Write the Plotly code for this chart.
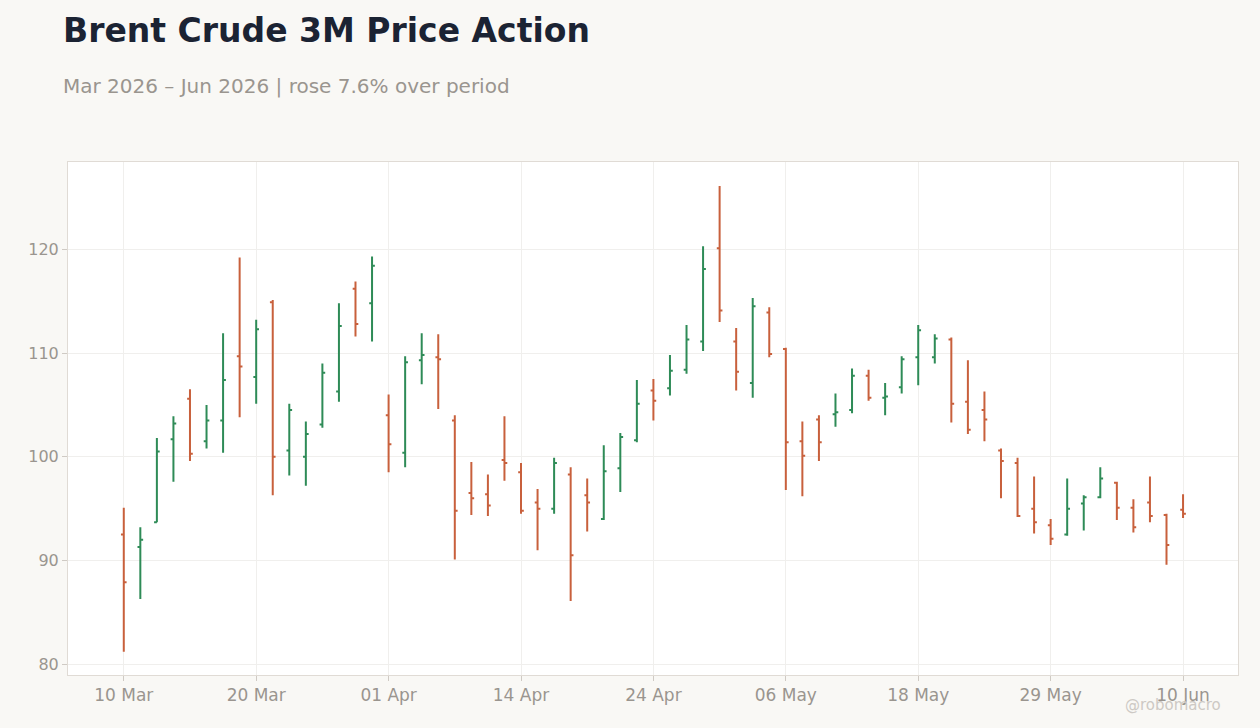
import plotly.graph_objects as go

dates = [
    "2026-03-10", "2026-03-11", "2026-03-12", "2026-03-13", "2026-03-16", "2026-03-17",
    "2026-03-18", "2026-03-19", "2026-03-20", "2026-03-23", "2026-03-24", "2026-03-25",
    "2026-03-26", "2026-03-27", "2026-03-30", "2026-03-31", "2026-04-01", "2026-04-02",
    "2026-04-06", "2026-04-07", "2026-04-08", "2026-04-09", "2026-04-10", "2026-04-13",
    "2026-04-14", "2026-04-15", "2026-04-16", "2026-04-17", "2026-04-20", "2026-04-21",
    "2026-04-22", "2026-04-23", "2026-04-24", "2026-04-27", "2026-04-28", "2026-04-29",
    "2026-04-30", "2026-05-01", "2026-05-04", "2026-05-05", "2026-05-06", "2026-05-07",
    "2026-05-08", "2026-05-11", "2026-05-12", "2026-05-13", "2026-05-14", "2026-05-15",
    "2026-05-18", "2026-05-19", "2026-05-20", "2026-05-21", "2026-05-22", "2026-05-26",
    "2026-05-27", "2026-05-28", "2026-05-29", "2026-06-01", "2026-06-02", "2026-06-03",
    "2026-06-04", "2026-06-05", "2026-06-08", "2026-06-09", "2026-06-10",
]

open_ = [
    92.5, 91.3, 93.7, 101.7, 105.6, 101.5, 103.5, 109.7, 107.7, 114.9, 100.6, 100.0,
    103.1, 106.3, 116.2, 114.8, 104.0, 100.4, 109.3, 109.6, 103.5, 96.5, 96.4, 99.7,
    98.5, 95.6, 95.0, 98.3, 96.3, 94.0, 98.9, 101.6, 106.4, 106.6, 108.4, 111.1,
    120.1, 111.1, 107.1, 113.9, 110.4, 101.5, 103.6, 104.1, 104.5, 107.8, 105.7, 106.7,
    109.6, 109.6, 111.3, 105.3, 104.5, 100.6, 99.4, 95.0, 93.4, 92.5, 95.5, 96.1,
    97.5, 95.1, 95.6, 94.4, 94.9,
]
high = [
    95.1, 93.2, 101.8, 103.9, 106.5, 105.0, 111.9, 119.2, 113.2, 115.1, 105.1, 103.4,
    109.0, 114.8, 116.9, 119.3, 106.0, 109.7, 111.9, 111.8, 104.0, 99.5, 98.3, 103.9,
    99.4, 96.9, 99.9, 99.0, 97.9, 101.1, 102.3, 107.4, 107.5, 109.8, 112.7, 120.3,
    126.1, 112.4, 115.3, 114.4, 110.5, 103.4, 104.0, 106.1, 108.5, 108.4, 107.1, 109.7,
    112.7, 111.8, 111.5, 109.3, 106.3, 100.8, 99.9, 98.1, 94.0, 97.9, 96.3, 99.0,
    97.6, 95.9, 98.1, 94.5, 96.4,
]
low = [
    81.2, 86.3, 93.7, 97.6, 99.6, 100.8, 100.4, 103.8, 105.1, 96.3, 98.2, 97.2,
    102.8, 105.3, 111.6, 111.1, 98.5, 99.0, 107.0, 104.6, 90.1, 94.4, 94.3, 97.7,
    94.5, 91.0, 94.5, 86.1, 92.8, 93.9, 96.6, 101.4, 103.5, 105.9, 108.0, 110.2,
    113.0, 106.4, 105.7, 109.6, 96.8, 96.2, 99.6, 102.9, 104.2, 105.4, 104.0, 106.1,
    106.9, 109.0, 103.3, 102.2, 101.5, 96.0, 94.2, 92.6, 91.5, 92.4, 92.9, 96.0,
    93.9, 92.7, 93.7, 89.6, 94.1,
]
close = [
    87.9, 92.0, 100.5, 103.2, 100.3, 103.5, 107.4, 108.7, 112.3, 100.0, 104.5, 102.2,
    108.1, 112.6, 112.8, 118.4, 101.2, 109.1, 109.8, 109.4, 94.8, 96.0, 95.3, 99.4,
    94.8, 95.0, 99.4, 90.5, 95.6, 98.6, 101.9, 105.1, 105.4, 108.3, 111.3, 118.1,
    114.1, 108.2, 114.5, 109.9, 101.4, 100.1, 101.4, 104.3, 107.8, 105.7, 105.8, 109.4,
    112.2, 111.4, 105.1, 102.6, 103.6, 99.6, 94.3, 93.7, 92.1, 95.0, 96.1, 97.9,
    95.1, 93.2, 94.3, 91.5, 94.5,
]

tick_dates = ["2026-03-10", "2026-03-20", "2026-04-01", "2026-04-14", "2026-04-24",
              "2026-05-06", "2026-05-18", "2026-05-29", "2026-06-10"]
tick_labels = ["10 Mar", "20 Mar", "01 Apr", "14 Apr", "24 Apr",
               "06 May", "18 May", "29 May", "10 Jun"]

UP = "#2e8b57"
DOWN = "#c8603c"
FONT = "DejaVu Sans"

W, H = 1260, 728
ML, MR, MT, MB = 68, 22, 162, 53
PW, PH = W - ML - MR, H - MT - MB


def px_x(p):
    return (p - ML) / PW


def px_y(p):
    return (H - MB - p) / PH


fig = go.Figure(
    go.Ohlc(
        x=dates, open=open_, high=high, low=low, close=close,
        increasing=dict(line=dict(color=UP, width=2)),
        decreasing=dict(line=dict(color=DOWN, width=2)),
        tickwidth=0.17,
        showlegend=False,
    )
)

fig.update_layout(
    width=W, height=H,
    paper_bgcolor="#f9f8f5",
    plot_bgcolor="#ffffff",
    margin=dict(l=ML, r=MR, t=MT, b=MB),
    font=dict(family=FONT, color="#9a958f", size=16),
    showlegend=False,
    annotations=[
        dict(text="<b>Brent Crude 3M Price Action</b>", xref="paper", yref="paper",
             x=px_x(61), y=px_y(30), xanchor="left", yanchor="middle", showarrow=False,
             font=dict(family=FONT, size=33, color="#1b2333")),
        dict(text="Mar 2026 – Jun 2026 | rose 7.6% over period", xref="paper", yref="paper",
             x=px_x(61), y=px_y(86), xanchor="left", yanchor="middle", showarrow=False,
             font=dict(family=FONT, size=20, color="#9a958f")),
        dict(text="@robomacro", xref="paper", yref="paper",
             x=px_x(1223), y=px_y(705), xanchor="right", yanchor="middle", showarrow=False,
             font=dict(family=FONT, size=15, color="#cdc9c4")),
    ],
)

fig.update_xaxes(
    type="category",
    categoryorder="array", categoryarray=dates,
    range=[-3.37, 67.32],
    rangeslider=dict(visible=False),
    tickmode="array", tickvals=tick_dates, ticktext=tick_labels,
    showgrid=True, gridcolor="#f0efed", gridwidth=1,
    showline=True, linecolor="#e0dbd5", linewidth=1, mirror=True,
    ticks="outside", ticklen=5, tickcolor="#cfcac4",
    tickfont=dict(size=17, color="#9a958f"),
)
fig.update_yaxes(
    range=[78.97, 128.41],
    tickvals=[80, 90, 100, 110, 120],
    showgrid=True, gridcolor="#f0efed", gridwidth=1,
    zeroline=False,
    showline=True, linecolor="#e0dbd5", linewidth=1, mirror=True,
    ticks="outside", ticklen=5, tickcolor="#cfcac4",
    tickfont=dict(size=16, color="#9a958f"),
)

fig.write_html("out.html")
